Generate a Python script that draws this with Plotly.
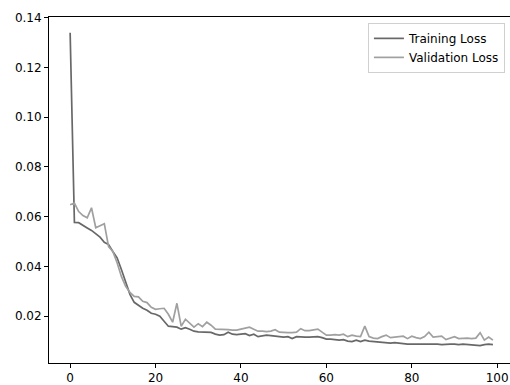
import plotly.graph_objects as go

epochs = list(range(100))

training_loss = [
    0.134, 0.0577, 0.0576, 0.0564, 0.0555, 0.0545, 0.0531, 0.0518, 0.0497, 0.0488,
    0.046, 0.0435, 0.0388, 0.034, 0.0288, 0.0256, 0.0244, 0.0232, 0.0224, 0.0212,
    0.0208, 0.0200, 0.0180, 0.0160, 0.0158, 0.0156, 0.0148, 0.0154, 0.0148, 0.0140,
    0.0137, 0.0137, 0.0136, 0.0135, 0.0128, 0.0124, 0.0126, 0.0136, 0.0128, 0.0126,
    0.0128, 0.0130, 0.0122, 0.0128, 0.0118, 0.0120, 0.0124, 0.0122, 0.0120, 0.0118,
    0.0116, 0.0118, 0.0110, 0.0118, 0.0116, 0.0116, 0.0116, 0.0116, 0.0118, 0.0114,
    0.0108, 0.0108, 0.0106, 0.0104, 0.0106, 0.0100, 0.0098, 0.0104, 0.0098, 0.0104,
    0.0100, 0.0098, 0.0096, 0.0094, 0.0094, 0.0092, 0.0094, 0.0092, 0.0088, 0.0088,
    0.0088, 0.0088, 0.0090, 0.0088, 0.0090, 0.0088, 0.0088, 0.0086, 0.0088, 0.0088,
    0.0088, 0.0086, 0.0088, 0.0086, 0.0086, 0.0084, 0.0082, 0.0086, 0.0088, 0.0086,
]

validation_loss = [
    0.0648, 0.0655, 0.0621, 0.0605, 0.0596, 0.0636, 0.0556, 0.0565, 0.0572, 0.048,
    0.046, 0.0415, 0.036, 0.032, 0.0296, 0.028, 0.0278, 0.026, 0.0255, 0.0236,
    0.0228, 0.023, 0.0232, 0.0208, 0.0176, 0.0252, 0.016, 0.0188, 0.017, 0.0156,
    0.017, 0.0158, 0.0176, 0.0164, 0.0148, 0.0148, 0.0146, 0.0146, 0.0144, 0.0144,
    0.0148, 0.0152, 0.0156, 0.0148, 0.014, 0.014, 0.0138, 0.014, 0.0146, 0.0136,
    0.0134, 0.0134, 0.0134, 0.0136, 0.015, 0.0142, 0.0142, 0.0144, 0.0148, 0.0136,
    0.0124, 0.0124, 0.0126, 0.0124, 0.0128, 0.0118, 0.0124, 0.012, 0.0118, 0.016,
    0.0118, 0.0112, 0.011, 0.0118, 0.0124, 0.0114, 0.0116, 0.012, 0.012, 0.011,
    0.012, 0.0114, 0.011, 0.0118, 0.0136, 0.0116, 0.0118, 0.012, 0.0106, 0.0112,
    0.0118, 0.011, 0.0112, 0.0112, 0.011, 0.0112, 0.0134, 0.0104, 0.0116, 0.0104,
]

x_ticks = [0, 20, 40, 60, 80, 100]
y_ticks = [0.02, 0.04, 0.06, 0.08, 0.10, 0.12, 0.14]

fig = go.Figure()
fig.add_trace(go.Scatter(x=epochs, y=training_loss, mode="lines", name="Training Loss",
                         line=dict(color="#686868", width=1.7)))
fig.add_trace(go.Scatter(x=epochs, y=validation_loss, mode="lines", name="Validation Loss",
                         line=dict(color="#a0a0a0", width=1.7)))

font = dict(family="DejaVu Sans", size=12, color="#000000")

fig.update_layout(
    width=510, height=385,
    margin=dict(l=49, r=0, t=17, b=22, autoexpand=False),
    paper_bgcolor="white", plot_bgcolor="white",
    font=font,
    showlegend=True,
    legend=dict(x=0.989, y=0.983, xanchor="right", yanchor="top",
                bgcolor="rgba(255,255,255,0.8)", bordercolor="#d0d0d0", borderwidth=1,
                font=dict(family="DejaVu Sans", size=12, color="#000000"),
                tracegroupgap=0),
    xaxis=dict(range=[-4.95, 103.0], tickvals=x_ticks, ticktext=[str(v) for v in x_ticks],
               showgrid=False, zeroline=False, showline=True, linecolor="black", linewidth=1,
               mirror=True, ticks="outside", ticklen=4, tickcolor="black", tickwidth=1,
               automargin=False),
    yaxis=dict(range=[0.0012, 0.1403], tickvals=y_ticks, tickformat=".2f",
               showgrid=False, zeroline=False, showline=True, linecolor="black", linewidth=1,
               mirror=False, ticks="outside", ticklen=4, tickcolor="black", tickwidth=1,
               automargin=False),
)

fig.write_html(
    "out.html",
    config={"displayModeBar": False},
    post_script="document.body.style.margin='0';document.body.style.overflow='hidden';",
)
